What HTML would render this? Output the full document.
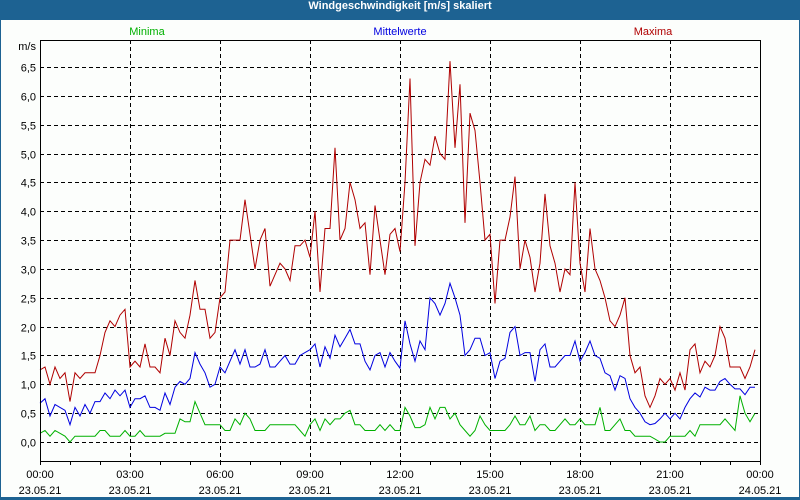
<!DOCTYPE html>
<html><head><meta charset="utf-8">
<style>
html,body{margin:0;padding:0;background:#1d6292;}
#win{position:absolute;left:0;top:0;width:800px;height:500px;background:#1d6292;}
#body{position:absolute;left:1px;top:20px;width:798px;height:477px;background:#fcfefc;}
#title{position:absolute;left:0;top:0;width:800px;height:20px;line-height:20px;text-align:center;color:#fff;font:bold 11px "Liberation Sans",sans-serif;}
svg{position:absolute;left:0;top:0;}
text{font-family:"Liberation Sans",sans-serif;font-size:11px;}
</style></head>
<body>
<div id="win">
<div id="title">Windgeschwindigkeit [m/s] skaliert</div>
<div id="body"></div>
<svg id="chart" width="800" height="500">
<text x="147" y="35" fill="#00b000" text-anchor="middle">Minima</text>
<text x="400" y="35" fill="#0000e0" text-anchor="middle">Mittelwerte</text>
<text x="653" y="35" fill="#b00000" text-anchor="middle">Maxima</text>
<text x="36" y="50" fill="#000" text-anchor="end">m/s</text>
<g id="grid"></g>
<g id="series"></g>
<g id="axes"></g>
</svg>
</div>
<script>
const yTicks=["0,0","0,5","1,0","1,5","2,0","2,5","3,0","3,5","4,0","4,5","5,0","5,5","6,0","6,5"];
const yTickValues=[0,0.5,1,1.5,2,2.5,3,3.5,4,4.5,5,5.5,6,6.5];
const xTickHours=[0,3,6,9,12,15,18,21,24];
const xTickTimes=["00:00","03:00","06:00","09:00","12:00","15:00","18:00","21:00","00:00"];
const xTickDates=["23.05.21","23.05.21","23.05.21","23.05.21","23.05.21","23.05.21","23.05.21","23.05.21","24.05.21"];
const maxima=[1.25,1.3,1.0,1.3,1.1,1.2, 0.7,1.2,1.1,1.2,1.2,1.2, 1.5,1.9,2.1,2.0,2.2,2.3, 1.3,1.4,1.3,1.7,1.3,1.3,
1.2,1.8,1.5,2.1,1.9,1.8, 2.2,2.8,2.3,2.3,1.8,1.9, 2.5,2.6,3.5,3.5,3.5,4.2, 3.6,3.0,3.5,3.7,2.7,2.9,
3.1,3.0,2.8,3.4,3.4,3.5, 3.2,4.0,2.6,3.7,3.7,5.1, 3.5,3.7,4.5,4.2,3.7,3.8, 2.9,4.1,3.5,2.9,3.6,3.7,
3.3,4.5,6.3,3.4,4.5,4.9, 4.8,5.3,5.0,4.9,6.6,5.1, 6.2,3.8,5.7,5.4,4.5,3.5, 3.6,2.4,3.5,3.5,3.9,4.6,
3.0,3.5,3.2,2.6,3.1,4.3, 3.4,3.1,2.6,3.0,2.9,4.5, 3.1,2.6,3.7,3.0,2.8,2.5, 2.1,2.0,2.2,2.5,1.5,1.2,
1.3,0.8,0.6,0.8,1.1,1.0, 1.1,0.9,1.2,0.9,1.6,1.7, 1.2,1.4,1.3,1.5,2.0,1.8, 1.3,1.3,1.3,1.1,1.3,1.6];
const mittelwerte=[.67,.75,.45,.65,.6,.55, .3,.6,.45,.65,.5,.7, .7,.85,.75,.9,.8,.9, .6,.75,.75,.8,.6,.6,
.55,.85,.65,.95,1.05,1.0, 1.1,1.55,1.35,1.2,.95,1.0, 1.3,1.2,1.4,1.6,1.35,1.6, 1.3,1.3,1.35,1.6,1.3,1.3,
1.4,1.5,1.35,1.35,1.5,1.55, 1.6,1.7,1.3,1.65,1.45,1.85, 1.65,1.8,1.95,1.7,1.7,1.4, 1.25,1.5,1.55,1.3,1.55,1.4,
1.28,2.1,1.7,1.4,1.75,1.6, 2.5,2.4,2.2,2.4,2.75,2.5, 2.2,1.5,1.6,1.8,1.8,1.5, 1.55,1.1,1.4,1.45,1.9,2.0,
1.5,1.55,1.55,1.05,1.6,1.7, 1.3,1.3,1.4,1.5,1.5,1.75, 1.4,1.55,1.75,1.5,1.45,1.2, 1.15,.9,1.15,1.1,.75,.6,
.5,.35,.3,.32,.4,.5, .4,.5,.4,.6,.75,.85, .78,.95,.9,.9,1.05,1.1, 1.0,.92,.92,.82,.95,.95];
const minima=[.15,.2,.1,.2,.15,.1, 0,.1,.1,.1,.1,.1, .2,.2,.1,.1,.1,.2, .1,.1,.2,.1,.1,.1,
.1,.15,.15,.15,.4,.35, .35,.7,.5,.3,.3,.3, .3,.2,.2,.4,.3,.5, .4,.2,.2,.2,.3,.3,
.3,.3,.3,.3,.2,.1, .3,.4,.2,.4,.3,.4, .4,.5,.55,.3,.3,.2, .2,.2,.3,.2,.3,.2,
.2,.6,.45,.25,.25,.3, .6,.4,.6,.6,.4,.5, .3,.2,.1,.2,.45,.3, .2,.2,.2,.2,.3,.45,
.3,.3,.45,.2,.3,.3, .2,.2,.3,.4,.3,.3, .4,.3,.3,.3,.6,.2, .2,.3,.4,.2,.2,.1,
.1,.1,.1,.05,0,0, .1,.1,.1,.1,.2,.1, .3,.3,.3,.3,.3,.4, .3,.2,.8,.5,.35,.5];
const stepHours=1/6;

const X0=40,X1=760,YTOP=40,YBOT=461;
function xScale(h){return X0+h*(X1-X0)/24;}
function yScale(v){return 442-v*(442-67)/6.5;}
const NS="http://www.w3.org/2000/svg";
function mk(tag,attrs,parent){const e=document.createElementNS(NS,tag);for(const k in attrs)e.setAttribute(k,attrs[k]);parent.appendChild(e);return e;}
const grid=document.getElementById('grid'),series=document.getElementById('series'),axes=document.getElementById('axes');

yTickValues.forEach((v,i)=>{
  const y=Math.round(yScale(v))+0.5;
  const l=mk('line',{x1:X0,x2:X1,y1:y,y2:y,stroke:'#000','stroke-dasharray':'4,3','stroke-width':1},grid);
  
  
  const t=mk('text',{x:36,y:y+4,'text-anchor':'end',fill:'#000'},axes);
  t.textContent=yTicks[i];
  
  
});
xTickHours.forEach((h,i)=>{
  const x=Math.round(xScale(h))+0.5;
  if(h>0&&h<24){
    const l=mk('line',{x1:x,x2:x,y1:YTOP,y2:YBOT,stroke:'#000','stroke-dasharray':'4,3','stroke-width':1},grid);
    
    
  }
  const t1=mk('text',{x:xScale(h),y:478,'text-anchor':'middle',fill:'#000'},axes);
  t1.textContent=xTickTimes[i];
  
  
  const t2=mk('text',{x:xScale(h),y:494,'text-anchor':'middle',fill:'#000'},axes);
  t2.textContent=xTickDates[i];
  
  
});
for(let h=0;h<=24;h++){
  const x=Math.round(xScale(h))+0.5;
  const l=mk('line',{x1:x,x2:x,y1:YBOT,y2:YBOT+4,stroke:'#000'},axes);
  
  
}
const frame=mk('path',{d:`M${X0+0.5},${YBOT+0.5} V${YTOP+0.5} H${X1+0.5} V${YBOT+0.5}`,fill:'none',stroke:'#000','stroke-width':1},axes);


const xAxis=mk('line',{x1:X0,x2:X1,y1:YBOT+0.5,y2:YBOT+0.5,stroke:'#000'},axes);



function drawSeries(vals,color,name){
  const pts=vals.map((v,i)=>xScale(i*stepHours).toFixed(1)+','+yScale(v).toFixed(1)).join(' ');
  const p=mk('polyline',{points:pts,fill:'none',stroke:color,'stroke-width':1},series);
  
  
}
drawSeries(minima,'#00b000','minima-line');
drawSeries(mittelwerte,'#0000e0','mittelwerte-line');
drawSeries(maxima,'#b00000','maxima-line');
</script>
</body></html>
